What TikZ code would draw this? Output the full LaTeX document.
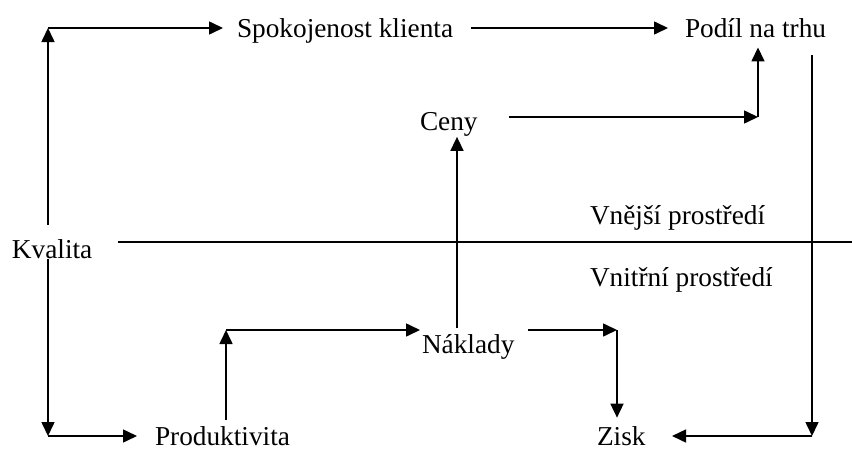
\documentclass[tikz,border=0pt]{standalone}
\usepackage{fontspec}
\setmainfont{Liberation Serif}
\usetikzlibrary{arrows.meta}
\begin{document}
\begin{tikzpicture}[x=1pt,y=-1pt,
  lbl/.style={anchor=base west,inner sep=0pt,outer sep=0pt,font=\fontsize{27.3}{32}\selectfont},
  conn/.style={line width=1.6pt,line cap=butt},
  arr/.style={conn,-{Triangle[length=14pt,width=13pt]}}]
\useasboundingbox (0,0) rectangle (852,450);
% labels
\node[lbl] (spok) at (237,37.5) {Spokojenost klienta};
\node[lbl] (podil) at (685,37.5) {Podíl na trhu};
\node[lbl] (ceny) at (420,130) {Ceny};
\node[lbl] (kval) at (12,258) {Kvalita};
\node[lbl] (vnej) at (590,224) {Vnější prostředí};
\node[lbl] (vnit) at (590,286) {Vnitřní prostředí};
\node[lbl] (nakl) at (422,353) {Náklady};
\node[lbl] (prod) at (155,445) {Produktivita};
\node[lbl] (zisk) at (597,445) {Zisk};
% corners and rows
\coordinate (cKS) at (48,28);
\coordinate (cCP) at (758,117);
\coordinate (cPZ) at (812,436);
\coordinate (cNZ) at (617,330);
\coordinate (cNC) at (457,0);
\coordinate (cPN) at (226,330);
\coordinate (cKP) at (48,436);
\coordinate (div) at (0,242);
\coordinate (divend) at (852,242);
% connectors
\draw[arr,shorten <=14.3pt] (kval.north -| cKS) -- (cKS);
\draw[arr,shorten >=14pt] (cKS) -- (cKS -| spok.west);
\draw[arr,shorten <=18pt,shorten >=17pt] (spok.east |- cKS) -- (podil.west |- cKS);
\draw[arr,shorten <=31.5pt] (ceny.east |- cCP) -- (cCP);
\draw[arr,shorten >=9.7pt] (cCP) -- (podil.south -| cCP);
\draw[arr,shorten <=17.7pt] (podil.south -| cPZ) -- (cPZ);
\draw[arr,shorten >=26.5pt] (cPZ) -- (zisk.east |- cPZ);
\draw[arr,shorten <=13.5pt] (nakl.east |- cNZ) -- (cNZ);
\draw[arr,shorten >=8.4pt] (cNZ) -- (zisk.north -| cNZ);
\draw[arr,shorten <=6.3pt,shorten >=1pt] (nakl.north -| cNC) -- (ceny.south -| cNC);
\draw[arr,shorten <=6.3pt] (prod.north -| cPN) -- (cPN);
\draw[arr,shorten >=2pt] (cPN) -- (nakl.west |- cPN);
\draw[arr,shorten <=1pt] (kval.south -| cKP) -- (cKP);
\draw[arr,shorten >=18pt] (cKP) -- (prod.west |- cKP);
\draw[conn,shorten <=25.6pt] (kval.east |- div) -- (divend);
\end{tikzpicture}
\end{document}
